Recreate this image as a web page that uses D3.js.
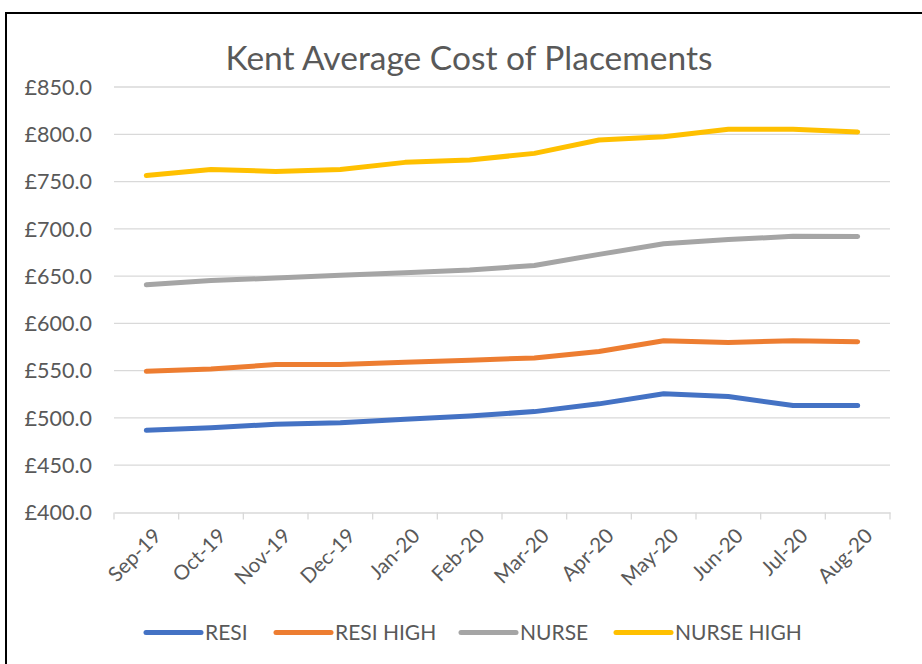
<!DOCTYPE html>
<html><head><meta charset="utf-8">
<script src="https://cdn.jsdelivr.net/npm/d3@7"></script>
<style>body{margin:0;background:#fff;} svg{display:block;}</style>
</head><body>
<script>
const months = ["Sep-19","Oct-19","Nov-19","Dec-19","Jan-20","Feb-20","Mar-20","Apr-20","May-20","Jun-20","Jul-20","Aug-20"];
const resi = [486.9,489.7,493.3,495.0,498.6,502.1,506.7,514.9,525.5,522.6,513.1,513.1];
const resiHigh = [549.3,551.8,556.4,556.4,558.8,561.0,563.5,570.2,581.6,579.8,581.6,580.5];
const nurse = [640.8,645.4,647.9,651.0,653.5,656.4,661.3,673.0,684.3,688.6,692.1,691.8];
const nurseHigh = [756.5,762.8,760.7,762.8,770.3,772.8,779.8,794.0,797.5,805.3,805.3,802.5];
const yTicks = [400,450,500,550,600,650,700,750,800,850];
const seriesNames = ["RESI","RESI HIGH","NURSE","NURSE HIGH"];
const seriesColors = ["#4472C4","#ED7D31","#A5A5A5","#FFC000"];
const title = "Kent Average Cost of Placements";

const series = [resi,resiHigh,nurse,nurseHigh].map((v,i)=>({name:seriesNames[i],color:seriesColors[i],values:v}));

const W=922,H=664;
const svg=d3.select("body").append("svg").attr("width",W).attr("height",H);
const font="Lato, 'Open Sans', sans-serif";
const txt="#595959";

svg.append("rect").attr("x",6).attr("y",13).attr("width",930).attr("height",680)
  .attr("fill","#fff").attr("stroke","#000").attr("stroke-width",2);

const x=d3.scaleBand().domain(months).range([114,890]);
const y=d3.scaleLinear().domain([400,850]).range([512.5,87]);

// gridlines
svg.append("g").selectAll("line").data(yTicks.slice(1)).join("line")
  .attr("x1",114).attr("x2",890).attr("y1",d=>y(d)).attr("y2",d=>y(d))
  .attr("stroke","#D9D9D9").attr("stroke-width",1.3);

// y labels
svg.append("g").selectAll("text").data(yTicks).join("text")
  .attr("x",92).attr("y",d=>y(d)).attr("dy","0.36em").attr("text-anchor","end")
  .attr("font-family",font).attr("font-size",21.5).attr("fill",txt)
  .text(d=>"£"+d3.format(".1f")(d));

// x axis
const xAxis=svg.append("g").attr("transform","translate(0,512.5)")
  .call(d3.axisBottom(x).tickSize(0).tickFormat(""));
xAxis.select(".domain").attr("stroke","#D9D9D9").attr("stroke-width",1.3);
const bounds=[...months.map(m=>x(m)),890];
svg.append("g").selectAll("line").data(bounds).join("line")
  .attr("x1",d=>d).attr("x2",d=>d).attr("y1",512.5).attr("y2",519.5)
  .attr("stroke","#D9D9D9").attr("stroke-width",1.3);

svg.append("g").selectAll("text").data(months).join("text")
  .attr("transform",d=>`translate(${x(d)+x.bandwidth()/2+6},${527}) rotate(-45)`)
  .attr("text-anchor","end").attr("dy","0.7em")
  .attr("font-family",font).attr("font-size",20.5).attr("fill",txt)
  .text(d=>d);

// lines
const line=d3.line().x((d,i)=>x(months[i])+x.bandwidth()/2).y(d=>y(d));
svg.append("g").selectAll("path").data(series).join("path")
  .attr("d",d=>line(d.values)).attr("fill","none").attr("stroke",d=>d.color)
  .attr("stroke-width",5).attr("stroke-linecap","round").attr("stroke-linejoin","round");

// title
svg.append("text").attr("x",469).attr("y",70).attr("text-anchor","middle")
  .attr("font-family",font).attr("font-weight",400).attr("font-size",33.5).attr("fill",txt)
  .text(title);

// legend
const legX=[146,276,461,616];
const lg=svg.append("g").selectAll("g").data(series).join("g")
  .attr("transform",(d,i)=>`translate(${legX[i]},632.5)`);
lg.append("line").attr("x1",0).attr("x2",55).attr("stroke",d=>d.color)
  .attr("stroke-width",5).attr("stroke-linecap","round");
lg.append("text").attr("x",59).attr("dy","0.36em").attr("font-family",font)
  .attr("font-size",21).attr("fill",txt).text(d=>d.name);
</script>
</body></html>
